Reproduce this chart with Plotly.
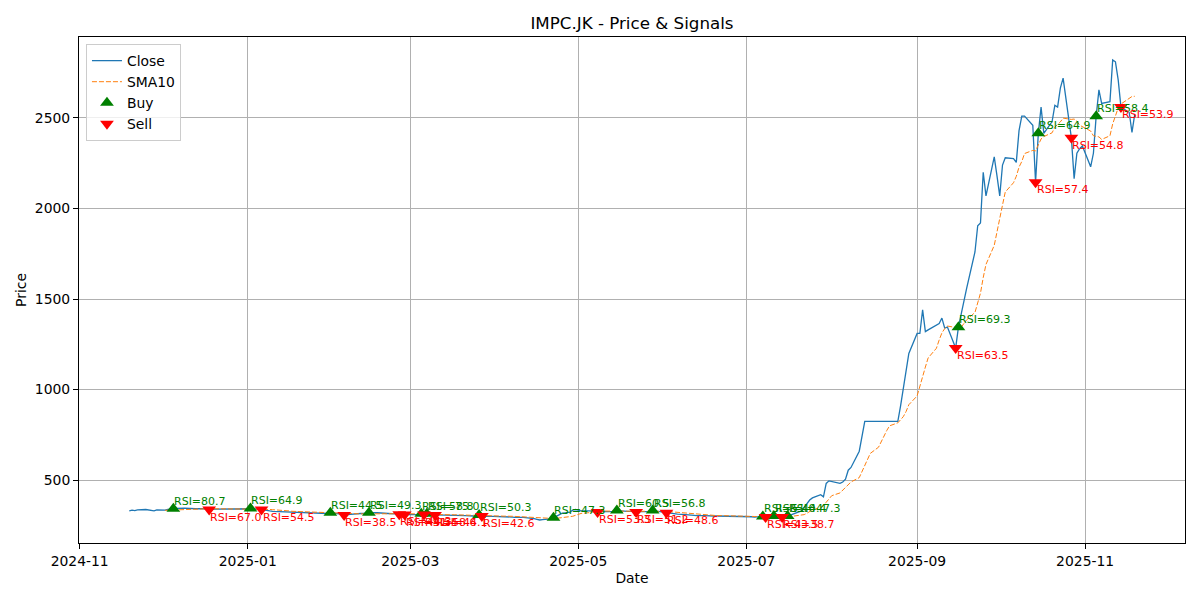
import pandas as pd
import plotly.graph_objects as go

ticker = "IMPC.JK"
start_day = "2024-11-19"
end_day = "2025-11-19"

# daily close, one row per week (Mon..Fri)
close = [
    330, 334, 332, 336,                 # Nov 19-22
    338, 334, 332, 330, 336,
    334, 338, 340, 342, 344,
    346, 344, 342, 344, 342,
    342, 340, 338, 338, 340,
    340, 342, 342, 340, 340,
    340, 340, 342, 344, 342,            # Dec 30 - Jan 3
    338, 334, 332, 330, 328,
    326, 326, 324, 322, 322,
    320, 320, 318, 318, 316,
    316, 314, 314, 316, 320,
    316, 312, 308, 310, 312,            # Feb 3
    314, 316, 316, 318, 320,
    320, 318, 318, 316, 316,
    314, 312, 314, 310, 310,
    310, 310, 314, 310, 314,            # Mar 3
    308, 308, 306, 306, 306,
    306, 304, 304, 304, 304,
    302, 304, 308, 302, 300,
    300, 300, 300, 298, 298,            # Mar 31
    296, 294, 292, 294, 294,
    292, 288, 284, 280, 282,
    286, 292, 300, 308, 316,
    324, 334, 338, 334, 330,            # Apr 28
    330, 328, 328, 324, 326,
    326, 326, 328, 332, 330,
    328, 328, 330, 324, 326,
    326, 328, 332, 330, 328,
    320, 318, 316, 314, 312,            # Jun 2
    310, 308, 306, 306, 304,
    304, 302, 302, 302, 302,
    302, 300, 300, 300, 300,
    300, 300, 298, 298, 296,            # Jun 30
    300, 296, 296, 298, 302,
    296, 298, 302, 308, 316,
    330, 350, 372, 390, 402,
    420, 408, 482, 496, 492,            # Jul 28
    482, 490, 505, 555, 570,
    660, 740, 825, 825, 825,
    825, 825, 825, 825, 825,
    825, 910, 1000, 1105, 1200,         # Aug 25
    1310, 1310, 1440, 1320, 1330,
    1355, 1365, 1395, 1340, 1345,
    1230, 1345, 1420, 1500, 1560,
    1760, 1905, 1920, 2200, 2070,
    2285, 2180, 2070, 2240, 2280,       # Sep 29
    2275, 2255, 2430, 2510, 2510,
    2460, 2145, 2415, 2560, 2415,
    2480, 2570, 2560, 2665, 2720,
    2390, 2165, 2305, 2330, 2345,       # Oct 27
    2230, 2305, 2510, 2655, 2580,
    2590, 2820, 2810, 2710, 2560,
    2530, 2420, 2520,                   # Nov 17-19
]

buy_dates = ["2024-12-05", "2025-01-02", "2025-01-31", "2025-02-14", "2025-03-05",
             "2025-03-07", "2025-03-26", "2025-04-22", "2025-05-15", "2025-05-28",
             "2025-07-07", "2025-07-11", "2025-07-16", "2025-09-16", "2025-10-15",
             "2025-11-05"]
buy_rsi = [80.7, 64.9, 44.5, 49.3, 58.8, 75.0, 50.3, 47.3, 60.5, 56.8,
           51.0, 44.4, 47.3, 69.3, 64.9, 58.4]

sell_dates = ["2024-12-18", "2025-01-06", "2025-02-05", "2025-02-25", "2025-02-27",
              "2025-03-06", "2025-03-10", "2025-03-27", "2025-05-08", "2025-05-22",
              "2025-06-02", "2025-07-08", "2025-07-14", "2025-09-15", "2025-10-14",
              "2025-10-27", "2025-11-14"]
sell_rsi = [67.0, 54.5, 38.5, 44.3, 41.4, 58.6, 44.1, 42.6, 53.3, 51.2,
            48.6, 43.5, 38.7, 63.5, 57.4, 54.8, 53.9]

x_ticks = ["2024-11-01", "2025-01-01", "2025-03-01", "2025-05-01",
           "2025-07-01", "2025-09-01", "2025-11-01"]
y_ticks = [500, 1000, 1500, 2000, 2500]


dates = pd.bdate_range(start_day, end_day)
df = pd.DataFrame({"Close": close}, index=dates)
df["SMA10"] = df["Close"].rolling(10).mean()

buys = df.loc[pd.to_datetime(buy_dates), "Close"]
sells = df.loc[pd.to_datetime(sell_dates), "Close"]

fig = go.Figure()
fig.add_trace(go.Scatter(x=df.index, y=df["Close"], mode="lines", name="Close",
                         line=dict(color="#1f77b4", width=1.3)))
fig.add_trace(go.Scatter(x=df.index, y=df["SMA10"], mode="lines", name="SMA10",
                         line=dict(color="#ff7f0e", width=1, dash="5px,2px")))
fig.add_trace(go.Scatter(x=buys.index, y=buys.values, mode="markers", name="Buy",
                         marker=dict(symbol="triangle-up", color="green", size=12)))
fig.add_trace(go.Scatter(x=sells.index, y=sells.values, mode="markers", name="Sell",
                         marker=dict(symbol="triangle-down", color="red", size=12)))

notes = []
for d, p, r in zip(buys.index, buys.values, buy_rsi):
    notes.append(dict(x=d, y=p, text=f"RSI={r:.1f}", showarrow=False,
                      xanchor="left", yanchor="bottom", borderpad=0,
                      font=dict(color="green", size=11)))
for d, p, r in zip(sells.index, sells.values, sell_rsi):
    notes.append(dict(x=d, y=p, text=f"RSI={r:.1f}", showarrow=False,
                      xanchor="left", yanchor="top", borderpad=0,
                      font=dict(color="red", size=11)))

# matplotlib style 5% margins
span = dates[-1] - dates[0]
x_range = [dates[0] - span * 0.05, dates[-1] + span * 0.05]
lo, hi = min(close), max(close)
y_range = [lo - (hi - lo) * 0.05, hi + (hi - lo) * 0.05]

axis_style = dict(showgrid=True, gridcolor="#b0b0b0", gridwidth=1.1,
                  showline=True, mirror=True, linecolor="black", linewidth=1,
                  ticks="outside", ticklen=5, tickcolor="black",
                  tickfont=dict(size=13.9, color="black"), zeroline=False)

# page has an 8px body margin, so the figure is 1184x584 inside it
fig.update_layout(
    width=1184, height=584,
    font=dict(family="DejaVu Sans", color="black"),
    title=dict(text=f"{ticker} - Price & Signals", x=0.527, xanchor="center",
               y=0.974, yanchor="middle", font=dict(size=16.7)),
    plot_bgcolor="white", paper_bgcolor="white",
    margin=dict(l=71, r=7, t=29, b=49),
    annotations=notes,
    showlegend=True,
    legend=dict(x=0.0063, y=0.986, xanchor="left", yanchor="top",
                bgcolor="rgba(255,255,255,0.8)", bordercolor="#cccccc", borderwidth=1,
                font=dict(size=13.9), itemwidth=30, tracegroupgap=0),
)
fig.update_xaxes(range=x_range, tickvals=x_ticks, tickformat="%Y-%m",
                 title=dict(text="Date", font=dict(size=13.9), standoff=5), **axis_style)
fig.update_yaxes(range=y_range, tickvals=y_ticks,
                 title=dict(text="Price", font=dict(size=13.9), standoff=4), **axis_style)

fig.write_html("out.html")
